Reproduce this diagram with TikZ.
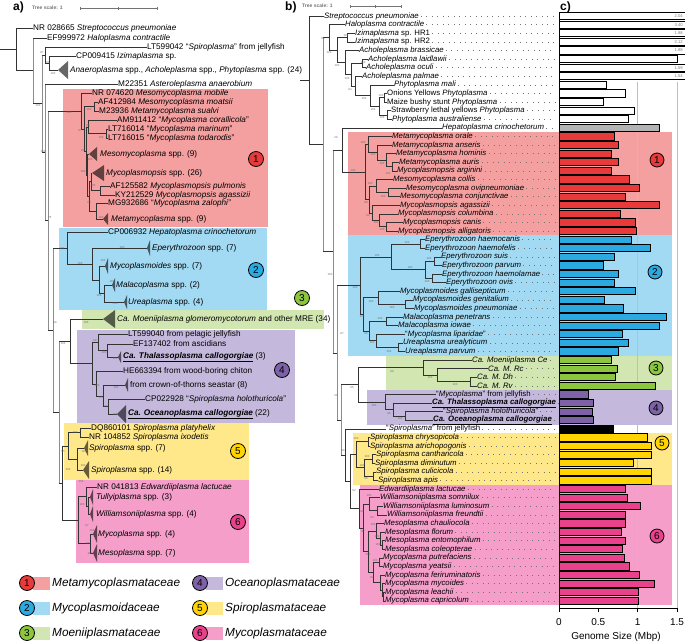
\documentclass[tikz,border=0pt]{standalone}
\usepackage{fontspec}
\setmainfont{Liberation Sans}
\definecolor{redbox}{HTML}{F5A0A0}
\definecolor{redbar}{HTML}{E83A3A}
\definecolor{bluebox}{HTML}{A3DAF3}
\definecolor{bluebar}{HTML}{2BAAE2}
\definecolor{greenbox}{HTML}{D2E6B2}
\definecolor{greenbar}{HTML}{8CC63E}
\definecolor{purplebox}{HTML}{C4B9DC}
\definecolor{purplebar}{HTML}{7D62A8}
\definecolor{yellowbox}{HTML}{FFE88A}
\definecolor{yellowbar}{HTML}{FFD400}
\definecolor{pinkbox}{HTML}{F49EC9}
\definecolor{pinkbar}{HTML}{E9418B}
\definecolor{hepgray}{HTML}{B3B3B3}
\tikzset{
  br/.style={draw=black!80, line width=0.55pt},
  bb/.style={draw=black!45, line width=0.9pt},
  clps/.style={fill=black, fill opacity=0.6},
  lfa/.style={anchor=west, inner sep=0pt, font=\fontsize{8.2}{8.5}\selectfont},
  lfb/.style={anchor=west, inner sep=0pt, font=\fontsize{7.8}{8}\selectfont},
  bs/.style={font=\fontsize{2.8}{3}\selectfont, text=black!60, inner sep=0pt},
  fam/.style={circle, draw=black, line width=0.8pt, minimum size=15pt, inner sep=0pt, font=\fontsize{10}{10}\selectfont},
  leader/.style={draw=black!55, line width=0.5pt, dash pattern=on 0.5pt off 5pt},
  bar/.style={draw=black, line width=0.9pt},
  tscale/.style={font=\bfseries\fontsize{5}{5}\selectfont, text=black!55, anchor=west, inner sep=0pt},
  plabel/.style={font=\bfseries\fontsize{12}{12}\selectfont, anchor=west, inner sep=0pt}
}
% vertical and horizontal branches, collapsed clade
\newcommand{\vbr}[4][br]{\draw[#1] (#2,#3) -- (#2,#4);}
\newcommand{\hbr}[4][br]{\draw[#1] (#2,#4) -- (#3,#4);}
\newcommand{\clade}[4]{\fill[clps] (#1,#3) -- (#2,{#3-#4}) -- (#2,{#3+#4}) -- cycle;}
\begin{document}
\begin{tikzpicture}[x=1pt,y=-1pt]
\useasboundingbox (0,0) rectangle (685,643);

%%% panel a
\fill[redbox] (63,89) rectangle (268,227);
\fill[bluebox] (59,228) rectangle (267,310);
\fill[greenbox] (82,310) rectangle (324,329);
\fill[purplebox] (77,330) rectangle (295,423);
\fill[yellowbox] (64,423) rectangle (249,480);
\fill[pinkbox] (76,480) rectangle (249,563);

\node[plabel] (pa) at (13,7) {a)};
\node[tscale] (tsa) at (32,8) {Tree scale: 1};
\draw[black!55, line width=0.4pt] (80,8) -- (157,8);
\foreach \t in {80,118.5,157} \draw[black!55, line width=0.4pt] (\t,6.5) -- (\t,9.5);

% backbone
\hbr{0}{16}{49.4}
\vbr{16}{28}{70.75}
\hbr{16}{33}{70.75}
\vbr[bb]{33}{38}{103.5}
\hbr{33}{42}{103.5}
\vbr[bb]{42}{55}{152}
\hbr{42}{45}{55}
\vbr{45}{47}{63}
\hbr{45}{49}{63}
\vbr{49}{56}{70}
\hbr{42}{45}{152}
\vbr[bb]{45}{84}{220.5}
\hbr{45}{48}{220.5}
\vbr[bb]{48}{111}{330}
\hbr{48}{81}{111}
\hbr{48}{53}{330}
\vbr[bb]{53}{248}{412}
\hbr{53}{67}{248}
\hbr{53}{59}{412}
\vbr[bb]{59}{341}{483}
\hbr{59}{70}{341}
\hbr{59}{62}{483}
\vbr{62}{446}{520}
\hbr{62}{68}{446}
\hbr{62}{78}{520}
% Metamycoplasmataceae
\vbr{81}{93}{129} \hbr{81}{84}{129}
\vbr{84}{106.5}{151} \hbr{84}{94}{106.5} \hbr{84}{86}{151}
\vbr{94}{102}{111}
\vbr{86}{127}{175} \hbr{86}{88}{127} \hbr{86}{87}{175}
\vbr{88}{120}{133.5} \hbr{88}{106}{133.5}
\vbr{106}{129}{138}
\vbr{87}{154}{196} \hbr{87}{89}{196}
\vbr{89}{181}{211} \hbr{89}{91}{181} \hbr{89}{96}{211}
\vbr{91}{173}{190} \hbr{91}{100}{190}
\vbr{100}{186}{195}
\vbr{96}{203}{219}
% Mycoplasmoidaceae
\vbr{67}{232}{264} \hbr{67}{92}{264}
\vbr{92}{248}{280} \hbr{92}{99}{280}
\vbr{99}{266}{293.5} \hbr{99}{104}{293.5}
\vbr{104}{285}{302}
% Moeniiplasmataceae and Oceanoplasmataceae
\vbr{70}{319}{363.5} \hbr{70}{92}{363.5}
\vbr{92}{342}{384} \hbr{92}{98}{342} \hbr{92}{96}{384}
\vbr{98}{334}{350.5} \hbr{98}{107}{350.5}
\vbr{107}{344}{357}
\vbr{96}{371}{396} \hbr{96}{103}{396}
\vbr{103}{385}{406.5} \hbr{103}{108}{406.5}
\vbr{108}{399}{414}
% Spiroplasmataceae
\vbr{68}{432.5}{459} \hbr{68}{80}{432.5} \hbr{68}{77}{459}
\vbr{80}{428}{437}
\vbr{77}{448}{470}
% Mycoplasmataceae
\vbr{78}{496.5}{543.5} \hbr{78}{86}{496.5} \hbr{78}{90}{543.5}
\vbr{86}{487}{506} \hbr{86}{88}{506}
\vbr{88}{497}{514}
\vbr{90}{534}{553}

% leaves of a
\foreach \nm/\px/\lx/\yy/\txt in {
  strep/16/33/28/{NR 028665 \textit{Streptococcus pneumoniae}},
  halo/33/47/38/{EF999972 \textit{Haloplasma contractile}},
  jelly/45/147/47/{LT599042 ``\textit{Spiroplasma}'' from jellyfish},
  izi/49/76/56/{CP009415 \textit{Izimaplasma} sp.},
  astero/45/118/84/{M22351 \textit{Asteroleplasma anaerobium}},
  mobile/81/92/93/{NR 074620 \textit{Mesomycoplasma mobile}},
  moatsii/94/98/102/{AF412984 \textit{Mesomycoplasma moatsii}},
  sualvi/94/99/111/{M23936 \textit{Metamycoplasma sualvi}},
  coral/88/117/120/{AM911412 ``\textit{Mycoplasma corallicola}''},
  marinum/106/108/129/{LT716014 ``\textit{Mycoplasma marinum}''},
  todar/106/108/138/{LT716015 ``\textit{Mycoplasma todarodis}''},
  pulmo/100/110/186/{AF125582 \textit{Mycoplasmopsis pulmonis}},
  agass/100/115/195/{KY212529 \textit{Mycoplasmopsis agassizii}},
  zaloph/96/108/203/{MG932686 ``\textit{Mycoplasma zalophi}''},
  hepato/67/108/232/{CP006932 \textit{Hepatoplasma crinochetorum}},
  pelag/98/128/334/{LT599040 from pelagic jellyfish},
  ascid/107/133/344/{EF137402 from ascidians},
  chiton/96/123/371/{HE663394 from wood-boring chiton},
  holo/108/145/399/{CP022928 ``\textit{Spiroplasma holothuricola}''},
  platy/80/91/428/{DQ860101 \textit{Spiroplasma platyhelix}},
  ixod/80/89/437/{NR 104852 \textit{Spiroplasma ixodetis}},
  edward/86/97/487/{NR 041813 \textit{Edwardiiplasma lactucae}}
}{
  \node[lfa] (\nm) at (\lx,\yy) {\txt};
  \draw[br] (\px,\yy) -- (\nm.west);
}
% collapsed clades of a
\foreach \nm/\px/\ax/\bx/\yy/\hh/\lx/\txt in {
  anaero/49/58/68/70/9/70/{\textit{Anaeroplasma} spp., \textit{Acholeplasma} spp., \textit{Phytoplasma} spp. (24)},
  mesomy/87/89/97/154/7/100/{\textit{Mesomycoplasma} spp. (9)},
  mycops/91/92/104/173/8/106/{\textit{Mycoplasmopsis} spp. (26)},
  metamy/96/103/108/219/6/111/{\textit{Metamycoplasma} spp. (9)},
  eperyt/92/147/150/248/8/152/{\textit{Eperythrozoon} spp. (7)},
  mycoid/99/105/108/266/8/110/{\textit{Mycoplasmoides} spp. (7)},
  malaco/104/112/115/285/7/116/{\textit{Malacoplasma} spp. (2)},
  ureapl/104/124/127/302/7/128/{\textit{Ureaplasma} spp. (4)},
  moeni/70/103/115/319/9/117/{\textit{Ca. Moeniiplasma glomeromycotorum} and other MRE (34)},
  thalas/107/118/121/357/6/123/{\underline{\textbf{\textit{Ca. Thalassoplasma callogorgiae}}} (3)},
  crown/103/125/128/385/7/130/{from crown-of-thorns seastar (8)},
  oceano/108/117/126/414/9/128/{\underline{\textbf{\textit{Ca. Oceanoplasma callogorgiae}}} (22)},
  spirsev/77/84/88/448/8/89/{\textit{Spiroplasma} spp. (7)},
  spirfour/77/83/89/470/9/91/{\textit{Spiroplasma} spp. (14)},
  tully/88/90/93/497/8/96/{\textit{Tullyiplasma} spp. (3)},
  willi/88/90/93/514/8/96/{\textit{Williamsoniiplasma} spp. (4)},
  mycopl/90/93/97/534/9/98/{\textit{Mycoplasma} spp. (4)},
  mesopl/90/93/97/553/9/98/{\textit{Mesoplasma} spp. (7)}
}{
  \draw[br] (\px,\yy) -- (\ax,\yy);
  \clade{\ax}{\bx}{\yy}{\hh}
  \node[lfa] (\nm) at (\lx,\yy) {\txt};
}
% support values of a
\foreach \bx/\by/\bv in {42/53/87, 48/63/91, 53/74/100, 38/106/100, 43/152/100, 50/218/75,
  69/113/100, 89/110/100, 80/131/97, 88/126/96, 101/138/100, 83/151/80, 90/160/100,
  83/172/100, 93/186/100, 89/203/98, 101/218/100, 62/249/100, 80/264/100, 122/248/100,
  103/261/100, 99/296/100, 112/282/100, 115/304/100, 55/323/99, 86/323/100, 63/344/100,
  95/341/90, 104/353/100, 115/359/100, 97/386/100, 116/388/100, 101/398/95, 106/407/95,
  115/415/100, 63/452/95, 75/433/100, 68/470/100, 84/452/100, 83/466/100, 81/482/100,
  82/505/100, 87/526/97, 92/531/100, 88/544/96, 90/554/100}
  \node[bs] at (\bx,\by) {\bv};

% family numbers of a
\foreach \k/\cx/\cy/\fc in {1/256/159/redbar, 2/256/270/bluebar, 3/302/298/greenbar,
  4/282/370/purplebar, 5/238/451/yellowbar, 6/238/522/pinkbar}
  \node[fam, fill=\fc] (fa\k) at (\cx,\cy) {\k};

% legend
\foreach \k/\cx/\cy/\sw/\fc/\fname in {1/27/583/redbox/redbar/Metamycoplasmataceae,
  2/27/608/bluebox/bluebar/Mycoplasmoidaceae, 3/27/633/greenbox/greenbar/Moeniiplasmataceae,
  4/200/583/purplebox/purplebar/Oceanoplasmataceae, 5/200/608/yellowbox/yellowbar/Spiroplasmataceae,
  6/200/633/pinkbox/pinkbar/Mycoplasmataceae}{
  \fill[\sw] ({\cx+6},{\cy-6.5}) rectangle ({\cx+23},{\cy+6.5});
  \node[fam, fill=\fc] (lg\k) at (\cx,\cy) {\k};
  \node[anchor=west, inner sep=0pt, font=\itshape\fontsize{11.8}{12}\selectfont] (lt\k) at ({\cx+25},\cy) {\fname};
}

%%% panels b and c
\fill[redbox] (348,132.1) rectangle (672,235.3);
\fill[bluebox] (348,235.3) rectangle (672,355.7);
\fill[greenbox] (386,355.7) rectangle (672,390.1);
\fill[purplebox] (367,390.1) rectangle (672,424.5);
\fill[yellowbox] (353,433.1) rectangle (672,484.7);
\fill[pinkbox] (360,484.7) rectangle (672,605.1);
\draw[black!25, line width=0.6pt] (637,82) -- (637,608);
\draw[black!25, line width=0.6pt] (677,82) -- (677,608);

\node[plabel] (pb) at (285,7) {b)};
\node[plabel] (pc) at (560,7) {c)};
\node[tscale] (tsb) at (302,6) {Tree scale: 1};
\draw[black!55, line width=0.4pt] (350,6) -- (401,6);
\foreach \t in {350,375.5,401} \draw[black!55, line width=0.4pt] (\t,4.5) -- (\t,7.5);

% backbone of b
\hbr{300}{309}{80.2}
\vbr{309}{16}{144.4} \hbr{309}{323}{144.4}
\vbr[bb]{323}{37.3}{251.4} \hbr{323}{329}{37.3} \hbr{323}{333}{251.4}
\vbr{329}{24.6}{50} \hbr{329}{337}{50}
\vbr{337}{37.5}{62.5} \hbr{337}{347}{37.5} \hbr{337}{345}{62.5}
\vbr{347}{33.2}{41.8}
\vbr{345}{50.4}{74.6} \hbr{345}{351}{74.6}
\vbr{351}{63.3}{85.9} \hbr{351}{362}{63.3} \hbr{351}{355}{85.9}
\vbr{362}{59}{67.6}
\vbr{355}{76.2}{95.5} \hbr{355}{370}{95.5}
\vbr{370}{84.8}{106.3} \hbr{370}{379}{106.3}
\vbr{379}{97.7}{114.9} \hbr{379}{384}{97.7} \hbr{379}{387}{114.9}
\vbr{384}{93.4}{102} \vbr{387}{110.6}{119.2}
\vbr[bb]{333}{149.9}{352.8} \hbr{333}{342}{149.9} \hbr{333}{337}{352.8}
\vbr{342}{127.8}{172} \hbr{342}{365}{172}
\vbr[bb]{337}{285.6}{420} \hbr{337}{360}{285.6} \hbr{337}{341}{420}
\vbr[bb]{341}{384.7}{455.2} \hbr{341}{358}{384.7} \hbr{341}{345}{455.2}
\vbr{345}{428.8}{481.5} \hbr{345}{350}{481.5}
\vbr{350}{454.6}{508.4} \hbr{350}{356}{454.6} \hbr{350}{359}{508.4}
% Metamycoplasmataceae
\vbr{365}{144.5}{199.4} \hbr{365}{368}{144.5} \hbr{365}{369}{199.4}
\vbr{368}{136.4}{152.5} \hbr{368}{377}{152.5}
\vbr{377}{145}{160} \hbr{377}{386}{160}
\vbr{386}{153.6}{166.5} \hbr{386}{392}{166.5}
\vbr{392}{162.2}{170.8}
\vbr{369}{185.9}{212.8} \hbr{369}{376}{185.9} \hbr{369}{372}{212.8}
\vbr{376}{179.4}{192.3} \hbr{376}{388}{192.3}
\vbr{388}{188}{196.6}
\vbr{372}{205.2}{220.3} \hbr{372}{379}{220.3}
\vbr{379}{213.8}{226.7} \hbr{379}{386}{226.7}
\vbr{386}{222.4}{231}
% Mycoplasmoidaceae
\vbr{360}{256.8}{314.4} \hbr{360}{391}{256.8} \hbr{360}{363}{314.4}
\vbr{391}{243.9}{269.7} \hbr{391}{420}{243.9} \hbr{391}{425}{269.7}
\vbr{420}{239.6}{248.2}
\vbr{425}{261.1}{278.3} \hbr{425}{434}{261.1} \hbr{425}{432}{278.3}
\vbr{434}{256.8}{265.4} \vbr{432}{274}{282.6}
\vbr{363}{297.7}{331} \hbr{363}{378}{297.7} \hbr{363}{369}{331}
\vbr{378}{291.2}{304.1} \hbr{378}{405}{304.1}
\vbr{405}{299.8}{308.4}
\vbr{369}{321.3}{340.7} \hbr{369}{386}{321.3} \hbr{369}{376}{340.7}
\vbr{386}{317}{325.6}
\vbr{376}{334.2}{347.1} \hbr{376}{398}{347.1}
\vbr{398}{342.8}{351.4}
% Moeniiplasmataceae and Oceanoplasmataceae
\vbr{358}{367.5}{401.9} \hbr{358}{423}{367.5} \hbr{358}{385}{401.9}
\vbr{423}{360}{375} \hbr{423}{437}{375}
\vbr{437}{368.6}{381.5} \hbr{437}{470}{381.5}
\vbr{470}{377.2}{385.8}
\vbr{385}{394.4}{409.4} \hbr{385}{393}{409.4}
\vbr{393}{403}{415.9} \hbr{393}{405}{415.9}
\vbr{405}{411.6}{420.2}
% Spiroplasmataceae
\vbr{356}{441.7}{467.5} \hbr{356}{368}{441.7} \hbr{356}{364}{467.5}
\vbr{368}{437.4}{446}
\vbr{364}{458.9}{476.1} \hbr{364}{372}{458.9} \hbr{364}{373}{476.1}
\vbr{372}{454.6}{463.2} \vbr{373}{471.8}{480.4}
% Mycoplasmataceae
\vbr{359}{489}{527.8} \hbr{359}{363}{527.8}
\vbr{363}{504}{551.6} \hbr{363}{369}{504} \hbr{363}{368}{551.6}
\vbr{369}{497.6}{510.5} \hbr{369}{377}{510.5}
\vbr{377}{506.2}{514.8}
\vbr{368}{530.9}{572.3} \hbr{368}{376}{530.9} \hbr{368}{373}{572.3}
\vbr{376}{523.4}{538.4} \hbr{376}{380}{538.4}
\vbr{380}{532}{544.9} \hbr{380}{382}{544.9}
\vbr{382}{540.6}{549.2}
\vbr{373}{562.1}{582.5} \hbr{373}{379}{562.1} \hbr{373}{380}{582.5}
\vbr{379}{557.8}{566.4}
\vbr{380}{575}{590} \hbr{380}{382}{590}
\vbr{382}{583.6}{596.5} \hbr{382}{383}{596.5}
\vbr{383}{592.2}{600.8}

% support values of b
\foreach \bx/\by/\bv in {323/39/84, 346/36/100, 329/53/100, 337/66/100, 363/63/100, 347/79/100,
  350/90/94, 364/99/100, 373/110/100, 381/96/100, 382/118/100, 336/138/29, 363/143/100,
  373/155/100, 382/164/100, 388/174/100, 353/171/100, 370/184/100, 383/197/100, 366/203/88,
  368/216/90, 376/223/100, 382/230/100, 330/275/100, 377/256/100, 407/243/100, 410/268/100,
  429/259/100, 427/282/100, 355/288/100, 371/302/100, 392/308/100, 362/317/100, 380/319/100,
  366/334/99, 372/343/100, 389/352/100, 342/334/87, 392/372/99, 430/378/100, 455/385/100,
  352/388/95, 374/406/100, 389/414/96, 400/419/100, 336/396/31, 343/451/80, 356/439/100,
  367/457/100, 362/466/100, 366/479/96, 354/491/92, 369/496/100, 372/518/92, 362/512/90,
  363/532/97, 373/525/100, 377/537/100, 378/545/100, 368/555/100, 372/578/92, 375/561/100}
  \node[bs] at (\bx,\by) {\bv};

% leaves of b with genome sizes of c
\foreach \px/\lx/\txt/\bc/\val [count=\i] in {
  309/324/{\textit{Streptococcus pneumoniae}}/white/2.04,
  329/345/{\textit{Haloplasma contractile}}/white/3.40,
  347/355/{\textit{Izimaplasma} sp. HR1}/white/1.88,
  347/355/{\textit{Izimaplasma} sp. HR2}/white/2.12,
  345/359/{\textit{Acholeplasma brassicae}}/white/1.88,
  362/368/{\textit{Acholeplasma laidlawii}}/white/1.50,
  362/366/{\textit{Acholeplasma oculi}}/white/1.59,
  355/362/{\textit{Acholeplasma palmae}}/white/1.54,
  370/394/{\textit{Phytoplasma mali}}/white/0.60,
  384/387/{Onions Yellows \textit{Phytoplasma}}/white/0.85,
  384/387/{Maize bushy stunt \textit{Phytoplasma}}/white/0.57,
  387/391/{Strawberry lethal yellows \textit{Phytoplasma}}/white/0.96,
  387/392/{\textit{Phytoplasma australiense}}/white/0.88,
  342/442/{\textit{Hepatoplasma crinochetorum}}/hepgray/1.27,
  368/392/{\textit{Metamycoplasma orale}}/redbar/0.70,
  377/392/{\textit{Metamycoplasma anseris}}/redbar/0.75,
  386/396/{\textit{Metamycoplasma hominis}}/redbar/0.66,
  392/399/{\textit{Metamycoplasma auris}}/redbar/0.75,
  392/397/{\textit{Mycoplasmopsis arginini}}/redbar/0.67,
  376/393/{\textit{Mesomycoplasma collis}}/redbar/0.90,
  388/406/{\textit{Mesomycoplasma ovipneumoniae}}/redbar/1.02,
  388/400/{\textit{Mesomycoplasma conjunctivae}}/redbar/0.85,
  372/400/{\textit{Mycoplasmopsis agassizii}}/redbar/1.27,
  379/398/{\textit{Mycoplasmopsis columbina}}/redbar/0.78,
  386/403/{\textit{Mycoplasmopsis canis}}/redbar/0.97,
  386/398/{\textit{Mycoplasmopsis alligatoris}}/redbar/0.98,
  420/425/{\textit{Eperythrozoon haemocanis}}/bluebar/0.92,
  420/425/{\textit{Eperythrozoon haemofelis}}/bluebar/1.16,
  434/441/{\textit{Eperythrozoon suis}}/bluebar/0.70,
  434/442/{\textit{Eperythrozoon parvum}}/bluebar/0.56,
  432/442/{\textit{Eperythrozoon haemolamae}}/bluebar/0.75,
  432/446/{\textit{Eperythrozoon ovis}}/bluebar/0.70,
  378/400/{\textit{Mycoplasmoides gallisepticum}}/bluebar/0.97,
  405/413/{\textit{Mycoplasmoides genitalium}}/bluebar/0.58,
  405/414/{\textit{Mycoplasmoides pneumoniae}}/bluebar/0.82,
  386/403/{\textit{Malacoplasma penetrans}}/bluebar/1.36,
  386/398/{\textit{Malacoplasma iowae}}/bluebar/1.28,
  376/405/{``\textit{Mycoplasma liparidae}''}/bluebar/0.80,
  398/403/{\textit{Ureaplasma urealyticum}}/bluebar/0.88,
  398/405/{\textit{Ureaplasma parvum}}/bluebar/0.75,
  423/472/{\textit{Ca. Moeniiplasma Ce}}/greenbar/0.66,
  437/488/{\textit{Ca. M. Rc}}/greenbar/0.74,
  470/477/{\textit{Ca. M. Dh}}/greenbar/0.72,
  470/477/{\textit{Ca. M. Rv}}/greenbar/1.23,
  385/436/{``\textit{Mycoplasma}'' from jellyfish}/purplebar/0.38,
  393/432/{\underline{\textbf{\textit{Ca. Thalassoplasma callogorgiae}}}}/purplebar/0.44,
  405/443/{``\textit{Spiroplasma holothuricola}''}/purplebar/0.42,
  405/433/{\underline{\textbf{\textit{Ca. Oceanoplasma callogorgiae}}}}/purplebar/0.44,
  345/386/{``\textit{Spiroplasma}'' from jellyfish}/black/0.69,
  368/370/{\textit{Spiroplasma chrysopicola}}/yellowbar/1.12,
  368/370/{\textit{Spiroplasma atrichopogonis}}/yellowbar/1.17,
  372/376/{\textit{Spiroplasma cantharicola}}/yellowbar/1.18,
  372/375/{\textit{Spiroplasma diminutum}}/yellowbar/0.94,
  373/376/{\textit{Spiroplasma culicicola}}/yellowbar/1.17,
  373/378/{\textit{Spiroplasma apis}}/yellowbar/1.17,
  359/379/{\textit{Edwardiiplasma lactucae}}/pinkbar/0.84,
  369/380/{\textit{Williamsoniiplasma somnilux}}/pinkbar/0.87,
  377/383/{\textit{Williamsoniiplasma luminosum}}/pinkbar/1.03,
  377/387/{\textit{Williamsoniiplasma freundtii}}/pinkbar/0.84,
  376/384/{\textit{Mesoplasma chauliocola}}/pinkbar/0.85,
  380/385/{\textit{Mesoplasma florum}}/pinkbar/0.79,
  382/385/{\textit{Mesoplasma entomophilum}}/pinkbar/0.85,
  382/385/{\textit{Mesoplasma coleopterae}}/pinkbar/0.80,
  379/383/{\textit{Mycoplasma putrefaciens}}/pinkbar/0.83,
  379/383/{\textit{Mycoplasma yeatsii}}/pinkbar/0.89,
  380/385/{\textit{Mycoplasma feriruminatoris}}/pinkbar/1.02,
  382/385/{\textit{Mycoplasma mycoides}}/pinkbar/1.21,
  383/385/{\textit{Mycoplasma leachii}}/pinkbar/1.01,
  383/385/{\textit{Mycoplasma capricolum}}/pinkbar/1.01
}{
  \pgfmathsetmacro\yy{16+8.6*(\i-1)}
  \node[lfb] (lb\i) at (\lx,\yy) {\txt};
  \draw[br] (\px,\yy) -- (lb\i.west);
  \draw[leader] ([xshift=2pt]lb\i.east) -- (555,\yy);
  \pgfmathtruncatemacro\cut{\val>1.51}
  \ifnum\cut=1
    \fill[white] (559,{\yy-3.6}) rectangle (685,{\yy+3.6});
    \draw[bar] (685,{\yy-3.6}) -- (559,{\yy-3.6}) -- (559,{\yy+3.6}) -- (685,{\yy+3.6});
    \node[anchor=east, inner sep=0pt, text=black!50, font=\fontsize{4.2}{4}\selectfont] (vb\i) at (683,\yy) {\val};
  \else
    \draw[bar, fill=\bc] (559,{\yy-3.6}) rectangle ({559+78.7*\val},{\yy+3.6});
  \fi
}

% axis of c
\draw[black, line width=1pt] (559,14) -- (559,608) -- (678,608);
\foreach \v/\t [count=\j] in {0/0, 0.5/0.5, 1/1, 1.5/1.5}{
  \draw[black, line width=1pt] ({559+78.7*\v},608) -- ({559+78.7*\v},612);
  \node[font=\fontsize{10}{10}\selectfont, inner sep=0pt] (tk\j) at ({559+78.7*\v},622) {\t};
}
\node[font=\fontsize{10}{10}\selectfont, inner sep=0pt] (gtitle) at (616,637) {Genome Size (Mbp)};

% family numbers of c
\foreach \k/\cx/\cy/\fc in {1/657/160/redbar, 2/655/272/bluebar, 3/656/368/greenbar,
  4/656/408/purplebar, 5/662/443/yellowbar, 6/657/536/pinkbar}
  \node[fam, minimum size=14pt, fill=\fc] (fc\k) at (\cx,\cy) {\k};
\end{tikzpicture}
\end{document}
